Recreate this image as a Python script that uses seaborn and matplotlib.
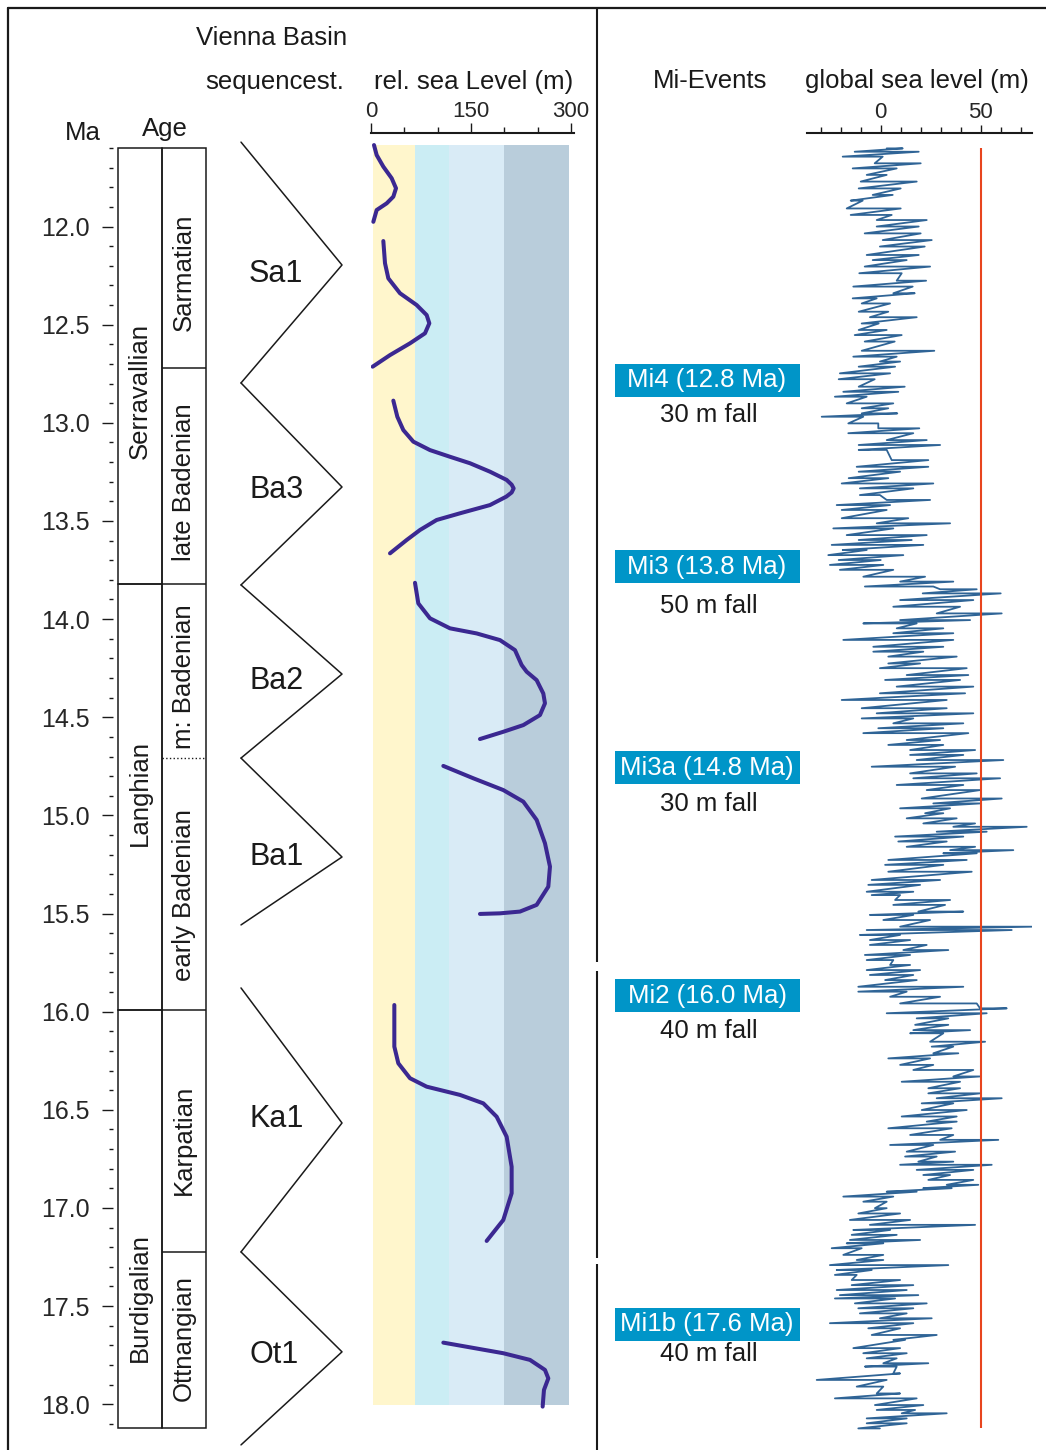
import matplotlib
matplotlib.use('Agg')
import matplotlib.pyplot as plt
from matplotlib.lines import Line2D
from matplotlib.ticker import FixedLocator, FormatStrFormatter
import numpy as np
import pandas as pd
import seaborn as sns

W, H = 1046, 1450
MA_TOP, MA_BOT = 10.846, 18.233   # ages at figure top / bottom edge

# chronostratigraphy (Ma)
stage_names = ['Serravallian', 'Langhian', 'Burdigalian']
stage_top = [11.60, 13.821, 15.99]
stage_base = [13.821, 15.99, 18.12]
stage_label_age = [12.838, 14.885, 17.454]

substage_names = ['Sarmatian', 'late Badenian', 'm: Badenian', 'early Badenian', 'Karpatian', 'Ottnangian']
substage_label_age = [12.232, 13.302, 14.295, 15.405, 16.653, 17.662]
substage_bounds = [12.721, 13.821, 14.708, 15.99, 17.224]
substage_bound_style = ['-', '-', ':', '-', '-']

ma_major = [12.0, 12.5, 13.0, 13.5, 14.0, 14.5, 15.0, 15.5, 16.0, 16.5, 17.0, 17.5, 18.0]

# Vienna Basin sequences
seq_names = ['Sa1', 'Ba3', 'Ba2', 'Ba1', 'Ka1', 'Ot1']
seq_top = [11.570, 12.797, 13.826, 14.708, 15.879, 17.224]
seq_apex = [12.196, 13.327, 14.280, 15.212, 16.567, 17.733]
seq_base = [12.797, 13.826, 14.708, 15.558, 17.224, 18.207]
seq_label_age = [12.225, 13.322, 14.300, 15.193, 16.528, 17.730]

# relative sea level (m) of the Vienna Basin
rsl_seg = (['Sa1a'] * 9 + ['Sa1b'] * 11 + ['Ba3'] * 19 + ['Ba2'] * 16 + ['Ba1'] * 12
           + ['Ka1'] * 13 + ['Ot1'] * 7)
rsl_age = [11.585, 11.636, 11.695, 11.754, 11.805, 11.848, 11.882, 11.916, 11.976,
           12.074, 12.187, 12.264, 12.340, 12.400, 12.451, 12.493, 12.544, 12.595, 12.655, 12.714,
           12.887, 12.969, 13.037, 13.096, 13.139, 13.173, 13.206, 13.249, 13.291, 13.315, 13.334,
           13.355, 13.376, 13.419, 13.461, 13.495, 13.546, 13.597, 13.665,
           13.815, 13.920, 13.996, 14.047, 14.073, 14.107, 14.158, 14.234, 14.268, 14.311, 14.379,
           14.429, 14.489, 14.540, 14.574, 14.611,
           14.748, 14.811, 14.871, 14.930, 15.023, 15.142, 15.261, 15.363, 15.456, 15.490, 15.499, 15.502,
           15.966, 16.178, 16.263, 16.339, 16.382, 16.424, 16.467, 16.535, 16.637, 16.790, 16.925,
           17.061, 17.168,
           17.686, 17.740, 17.774, 17.825, 17.868, 17.927, 18.012]
rsl_m = [4.5, 8.5, 18.5, 31, 37.5, 33.5, 23.5, 8.5, 3.5,
         18.5, 21, 26, 43.5, 68.5, 83.5, 87.5, 81, 58.5, 28.5, 2.5,
         33.5, 39.5, 48.5, 63.5, 88.5, 118.5, 148.5, 178.5, 203.5, 211, 214,
         211, 203, 178.5, 133.5, 98.5, 73.5, 53.5, 28.5,
         66, 71, 88.5, 118.5, 158.5, 193.5, 216, 226, 233.5, 248.5, 258.5,
         261, 253.5, 228.5, 198.5, 163.5,
         108.5, 153.5, 198.5, 228.5, 248.5, 261, 268.5, 266, 248.5, 223.5, 193.5, 163.5,
         35, 35, 41, 58.5, 83.5, 133.5, 168.5, 188.5, 203.5, 211, 211,
         198.5, 173.5,
         108.5, 198.5, 238.5, 261, 266, 259.5, 257.5]

# water depth zones behind the curve (m)
zone_edges = [2.5, 66, 117, 200, 297]
zone_colors = ['#fff6cc', '#cbedf4', '#d9ebf6', '#b9cddb']
zone_top, zone_base = 11.585, 18.004

# global sea level (m): leftmost / rightmost swing for each age step
gsl_age = [11.602, 11.619, 11.644, 11.678, 11.704, 11.737, 11.771, 11.806, 11.839, 11.868,
           11.908, 11.941, 11.967, 12.000, 12.035, 12.069, 12.102, 12.145, 12.171, 12.204,
           12.238, 12.276, 12.306, 12.340, 12.366, 12.392, 12.434, 12.462, 12.494, 12.527,
           12.553, 12.586, 12.633, 12.663, 12.688, 12.714, 12.748, 12.778, 12.816, 12.842,
           12.867, 12.901, 12.926, 12.952, 12.969, 13.003, 13.028, 13.053, 13.088, 13.113,
           13.138, 13.190, 13.224, 13.249, 13.282, 13.309, 13.334, 13.368, 13.393, 13.419,
           13.444, 13.486, 13.512, 13.538, 13.572, 13.597, 13.622, 13.648, 13.674, 13.699,
           13.724, 13.749, 13.784, 13.809, 13.834, 13.848, 13.869, 13.903, 13.937, 13.971,
           14.005, 14.022, 14.047, 14.072, 14.106, 14.141, 14.166, 14.191, 14.226, 14.250,
           14.285, 14.310, 14.344, 14.378, 14.412, 14.454, 14.480, 14.506, 14.531, 14.556,
           14.581, 14.616, 14.641, 14.667, 14.692, 14.718, 14.752, 14.786, 14.811, 14.845,
           14.871, 14.914, 14.939, 14.964, 14.989, 15.015, 15.041, 15.058, 15.083, 15.108,
           15.133, 15.160, 15.177, 15.193, 15.227, 15.252, 15.287, 15.329, 15.354, 15.389,
           15.406, 15.431, 15.456, 15.490, 15.507, 15.533, 15.567, 15.584, 15.609, 15.635,
           15.660, 15.686, 15.711, 15.737, 15.762, 15.788, 15.813, 15.839, 15.873, 15.898,
           15.924, 15.958, 15.983, 16.008, 16.034, 16.067, 16.094, 16.110, 16.153, 16.178,
           16.212, 16.238, 16.271, 16.297, 16.330, 16.357, 16.390, 16.416, 16.441, 16.467,
           16.501, 16.534, 16.560, 16.594, 16.628, 16.653, 16.679, 16.713, 16.738, 16.764,
           16.780, 16.806, 16.832, 16.857, 16.882, 16.899, 16.917, 16.942, 16.968, 17.001,
           17.028, 17.061, 17.086, 17.112, 17.137, 17.163, 17.180, 17.205, 17.239, 17.265,
           17.291, 17.316, 17.341, 17.367, 17.393, 17.418, 17.444, 17.461, 17.486, 17.511,
           17.537, 17.562, 17.587, 17.613, 17.647, 17.672, 17.714, 17.740, 17.766, 17.791,
           17.808, 17.843, 17.876, 17.910, 17.945, 17.970, 18.004, 18.029, 18.046, 18.072,
           18.097, 18.123]
gsl_lo = [3, -13, -19, -3, -14, -7, -10, -11, -4, -15,
          -17, -15, -2, -2, -8, 1, -0.4, -7, -4, -8,
          -10.7, 8, -13.7, 6.3, -14, -9.5, -11, -5.4, -9.5, -11,
          -13, -8, -9.5, -13.7, -0.4, -11, -20.4, -21, -11, -18.7,
          -22.9, -17, -9.5, -9.5, -29.5, -16.2, -1.2, -16.2, 3, -11,
          -11, 5.5, -12, -11, -16, -19.5, -10.4, -10.4, 3, -22,
          -19.5, -19.5, -2, -23.7, -17, -11, -24.5, -19, -26.2, -21,
          -25.4, -20.4, -8.7, 9.7, -7.9, 29.7, 21, 9.7, 6.3, 28,
          9.7, -8.7, 8, 6.3, -18.7, -3.7, -3.7, 3.8, 3.8, -0.4,
          13, 2.2, 8, -0.4, -19.5, -9.5, -2, -9.5, 6.3, -1.2,
          -8.7, 13, 3.8, 14.7, 14.7, 18, -4.5, 14.7, 16.3, 8,
          23, 20.5, 26.3, 9.7, 22.2, 13, 21.3, 36.3, 28, 7.2,
          8.8, 13, 34.7, 31.3, 3.8, 2.2, 3.8, -4.5, -6.2, -7,
          -4.5, 7.2, 6.3, 18.8, -5.4, 1.3, 9.7, -7, -10.4, -5.4,
          -5.4, 11.3, -7.9, -7, 4.7, -7, -5.4, 2.2, -11.2, -11.2,
          4.7, 9.7, 49.7, 3, 18, 17.2, 16.3, 14.7, 24.7, 25.5,
          26.3, 3.8, 9.7, 16.3, 36.3, 10.5, 23.8, 23.8, 28, 20.5,
          20.5, 10.5, 23, 3.8, 14.7, 29.7, 4.7, 13, 12.2, 18.8,
          9.7, 18, 21.3, 23.8, 33, 21.3, 3, -18.7, -8.7, -2.9,
          -11.2, -15.4, -5.4, -13.7, -14.5, -15.4, -17, -24.5, -18.7, -12,
          -25.4, -22, -22.9, -14.5, -14.5, -22, -20.4, -22.9, -12.9, -11.2,
          -10.4, -0.4, -25.4, -6.2, -4.5, 6.3, -13.7, -8.7, -7, 1.3,
          -7.9, 6.3, -32, -12, -2, -22.9, -2.9, -2, 10.5, -7,
          -7, -11.2]
gsl_hi = [11, 19, 1, 20, 8, 3, 18, 10, 6, -9,
          10, 5.5, 23, 19, 20, 25.5, 22, 19, 13, 24.7,
          10.5, 22.7, 16, 17, -2, 4.7, 3.8, 18, -1, 3,
          10.5, 7, 26.8, 8, 9.7, 7.2, 4.7, -3, 12, 8.8,
          -7, 6.3, 3.8, 8.3, -8.7, -1.2, 19.3, 16.3, 23, 29.7,
          3, 23.8, 23.8, 9.7, 3.8, 26.3, 16.3, -0.4, 24.7, 4.7,
          3, 13.8, 34.7, 6.3, 23, 15.5, 21.3, -7, 11.3, 0,
          1.3, 6.3, 22.2, 36.3, 26.3, 48, 60, 46.3, 39.7, 60.5,
          44.7, 18, 31.3, 36.3, 36.3, 31.3, 21.3, 38, 19.7, 43,
          43.8, 39.7, 46.3, 42.2, 33, 33, 46.3, 16.3, 41.3, 31.3,
          43.8, 29.7, 31.3, 47.2, 41.3, 61.3, 37.2, 48, 59.7, 41.3,
          49.7, 60.5, 49.7, 34.7, 31.3, 38, 47.2, 73, 53, 41.3,
          33, 47.2, 66.3, 48, 43, 31.3, 45.5, 29.7, 19.7, 16.3,
          9.7, 34.7, 32.2, 41.3, 16.3, 24.7, 75.5, 65.5, 9.7, 14.7,
          23, 33.8, 14.7, 6.3, 14.7, 19.7, 16.3, 18, 41.3, 13,
          29.7, 48, 63, 53, 33.8, 33.8, 44.7, 31.3, 52.2, 36.3,
          38.8, 24.7, 26.3, 46.3, 49.7, 39.7, 39.7, 49.7, 60.5, 36.3,
          43, 38, 38, 35.5, 36.3, 58.8, 26.3, 37.2, 28, 36.3,
          55.5, 46.3, 34.7, 46.3, 48.8, 35.5, 18, 6.3, 3, 3,
          9.7, 14.7, 47.2, 4.7, 8, 19.7, 1.3, -9.5, 1.3, 1.3,
          33.8, -4.5, -12, 9.7, 16.3, 13, 18.8, 7.2, 23, 16.3,
          13, 25.5, 16.3, 9.7, 28, 12.2, 9.7, 13, 8, 23.8,
          8, 9.7, 3, 1.3, 9.7, 18, 21.3, 17.2, 33, 13,
          13, -0.4]
gsl_ref_level = 50
gsl_ref_top, gsl_ref_base = 11.600, 18.121

# Mi-events
ev_names = ['Mi4 (12.8 Ma)', 'Mi3 (13.8 Ma)', 'Mi3a (14.8 Ma)', 'Mi2 (16.0 Ma)', 'Mi1b (17.6 Ma)']
ev_fall = ['30 m fall', '50 m fall', '30 m fall', '40 m fall', '40 m fall']
ev_box_age = [12.782, 13.734, 14.758, 15.920, 17.592]
ev_fall_age = [12.960, 13.933, 14.942, 16.098, 17.745]

LINE = '#1a1a1a'
RSL_COLOR = '#3b2891'
GSL_COLOR = '#2f6496'
RED = '#e8451e'
MI_BLUE = '#0095c8'

sns.set_theme(style='white')
plt.rcParams['font.family'] = ['Liberation Sans', 'DejaVu Sans']
plt.rcParams['text.color'] = LINE

fig = plt.figure(figsize=(W / 100, H / 100), dpi=100)
fig.patch.set_facecolor('white')


def col_axes(x0, x1):
    ax = fig.add_axes([x0 / W, 0, (x1 - x0) / W, 1])
    ax.set_ylim(MA_BOT, MA_TOP)
    ax.set_facecolor('none')
    for s in ax.spines.values():
        s.set_visible(False)
    ax.set_xticks([])
    ax.set_yticks([])
    return ax


def fig_text(x, y, s, **kw):
    fig.text(x / W, 1 - y / H, s, ha='center', va='center', **kw)


# --- age columns ---
ax = col_axes(118, 206)
ax.set_xlim(0, 2)
mids = [(t + b) / 2 for t, b in zip(stage_top, stage_base)]
hts = [b - t for t, b in zip(stage_top, stage_base)]
ax.barh(mids, 1, left=0, height=hts, fill=False, edgecolor=LINE, linewidth=1.1, clip_on=False)
ax.barh([(stage_top[0] + stage_base[-1]) / 2], 1, left=1, height=[stage_base[-1] - stage_top[0]],
        fill=False, edgecolor=LINE, linewidth=1.1, clip_on=False)
for b, ls in zip(substage_bounds, substage_bound_style):
    ax.hlines(b, 1, 2, colors=LINE, linestyles=ls, linewidth=1.1 if ls == '-' else 1.0)
for name, a in zip(stage_names, stage_label_age):
    ax.text(0.5, a, name, rotation=90, ha='center', va='center', fontsize=18.5)
for name, a in zip(substage_names, substage_label_age):
    ax.text(1.5, a, name, rotation=90, ha='center', va='center', fontsize=18.5)

ax.spines['left'].set_position(('outward', 3.6))
ax.yaxis.set_ticks_position('left')
ax.set_yticks(ma_major)
ax.yaxis.set_major_formatter(FormatStrFormatter('%.1f'))
ax.yaxis.set_minor_locator(FixedLocator(np.round(np.arange(11.6, 18.15, 0.1), 1)))
ax.tick_params(axis='y', which='major', length=8, width=1, color=LINE, labelsize=18, pad=9,
               left=True)
ax.tick_params(axis='y', which='minor', length=3, width=1, color=LINE, left=True)

# --- sequence triangles ---
ax = col_axes(241, 342)
ax.set_xlim(0, 1)
for name, t, a, b, la in zip(seq_names, seq_top, seq_apex, seq_base, seq_label_age):
    ax.plot([0, 1, 0], [t, a, b], color=LINE, linewidth=1.1, clip_on=False)
    ax.text(0.08, la, name, fontsize=22, va='center_baseline', ha='left')

# --- relative sea level ---
ax = col_axes(371, 574.3)
ax.set_xlim(0, 305)
for lo, hi, c in zip(zone_edges[:-1], zone_edges[1:], zone_colors):
    ax.fill_betweenx([zone_top, zone_base], lo, hi, color=c, linewidth=0)
rsl = pd.DataFrame({'m': rsl_m, 'age': rsl_age, 'seg': rsl_seg})
sns.lineplot(data=rsl, x='m', y='age', units='seg', estimator=None, sort=False, orient='y',
             color=RSL_COLOR, linewidth=2.9, solid_capstyle='round', solid_joinstyle='round',
             ax=ax)
ax.set_xlabel('')
ax.set_ylabel('')
ax.set_xticks([])
ax.set_yticks([])
ax.set_ylim(MA_BOT, MA_TOP)

sc = fig.add_axes([371 / W, 1 - 133 / H, 203.3 / W, 0.0001])
sc.set_xlim(0, 305)
for k, s in sc.spines.items():
    s.set_visible(k == 'top')
sc.spines['top'].set_linewidth(1.5)
sc.spines['top'].set_color(LINE)
sc.xaxis.tick_top()
sc.set_xticks([0, 150, 300])
sc.set_xticks([50, 100, 200, 250], minor=True)
sc.set_yticks([])
sc.tick_params(axis='x', which='major', direction='out', length=7, width=1, color=LINE,
               labelsize=16, pad=1, top=True)
sc.tick_params(axis='x', which='minor', direction='out', length=4, width=1, color=LINE, top=True)

# --- Mi events ---
ax = col_axes(597, 807)
ax.set_xlim(0, 210)
ax.barh(ev_box_age, 185, left=18, height=0.168, color=MI_BLUE, linewidth=0)
for name, fall, a, f in zip(ev_names, ev_fall, ev_box_age, ev_fall_age):
    ax.text(110, a, name, color='white', fontsize=18.5, ha='center', va='center')
    ax.text(112, f, fall, color=LINE, fontsize=18.5, ha='center', va='center')
div_top = [10.887, 15.793, 17.285]
div_base = [15.747, 17.254, 18.233]
ax.vlines([0] * len(div_top), div_top, div_base, colors=LINE, linewidth=1.5, clip_on=False)

# --- global sea level ---
ax = col_axes(807, 1032)
ax.set_xlim(-36.85, 75.65)
g_age, g_val = [], []
for a, lo, hi in zip(gsl_age, gsl_lo, gsl_hi):
    g_age += [a, a]
    g_val += [lo, hi]
sns.lineplot(x=g_val, y=g_age, estimator=None, sort=False, orient='y', color=GSL_COLOR,
             linewidth=1.3, ax=ax)
ax.vlines(gsl_ref_level, gsl_ref_top, gsl_ref_base, colors=RED, linewidth=1.5)
ax.set_xlabel('')
ax.set_ylabel('')
ax.set_xticks([])
ax.set_yticks([])
ax.set_ylim(MA_BOT, MA_TOP)

sc = fig.add_axes([807 / W, 1 - 133 / H, 225 / W, 0.0001])
sc.set_xlim(-36.85, 75.65)
for k, s in sc.spines.items():
    s.set_visible(k == 'top')
sc.spines['top'].set_linewidth(1.5)
sc.spines['top'].set_color(LINE)
sc.xaxis.tick_top()
sc.set_xticks([0, 50])
sc.set_xticks([-30, -20, -10, 10, 20, 30, 40, 60, 70], minor=True)
sc.set_yticks([])
sc.tick_params(axis='x', which='major', direction='out', length=6, width=1, color=LINE,
               labelsize=16, pad=1, top=True)
sc.tick_params(axis='x', which='minor', direction='out', length=4, width=1, color=LINE, top=True)

# --- headers ---
fig_text(272, 38, 'Vienna Basin', fontsize=18.5)
fig_text(275, 82, 'sequencest.', fontsize=18.5)
fig_text(474, 82, 'rel. sea Level (m)', fontsize=18.5)
fig_text(83, 133, 'Ma', fontsize=18.5)
fig_text(165, 129, 'Age', fontsize=18.5)
fig_text(710, 81, 'Mi-Events', fontsize=18.5)
fig_text(917, 81, 'global sea level (m)', fontsize=18.5)

# outer frame (top and left edges)
fig.add_artist(Line2D([8 / W, 1], [1 - 8 / H, 1 - 8 / H], color=LINE, linewidth=1.6))
fig.add_artist(Line2D([8 / W, 8 / W], [0, 1 - 8 / H], color=LINE, linewidth=1.6))

fig.savefig('out.png', dpi=100)
